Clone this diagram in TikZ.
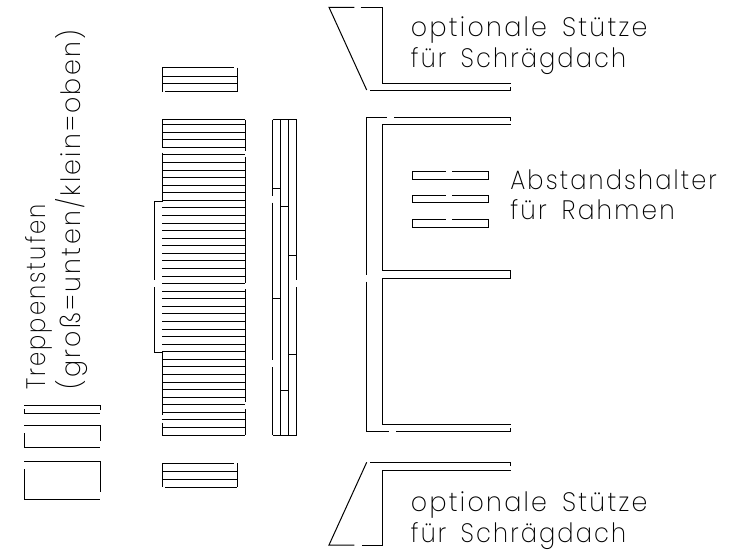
\documentclass[tikz,border=0pt]{standalone}
\usepackage{fontspec}
\setmainfont{Poppins ExtraLight}[LetterSpace=9, WordSpace=1.6]
\newcommand{\squeezed}[2]{\scalebox{#1}[1]{#2}}
\tikzset{
    part/.style={line width=0.75pt},
    label/.style={inner sep=0pt, anchor=base west, font=\fontsize{20}{20}\selectfont},
    sidelabel/.style={label, rotate=90}
}
\begin{document}
\begin{tikzpicture}[x=0.75pt, y=-0.75pt]
    \useasboundingbox (0, 0) rectangle (745, 549);

    % loose steps
    \draw[part] (24, 405.7) -- (100, 405.7) -- (100, 410);
    \draw[part] (24, 409) -- (24, 413.3) -- (100, 413.3);
    \draw[part] (24, 425.7) -- (100, 425.7) -- (100, 440.7);
    \draw[part] (24, 433.3) -- (24, 447.7) -- (100, 447.7);
    \draw[part] (24, 461.7) -- (100, 461.7) -- (100, 492.3);
    \draw[part] (24, 469.3) -- (24, 499.7) -- (100, 499.7);

    % small ladders
    \foreach \top in {67.7, 463.3} {
        \draw[part] (162, \top) -- ++(72, 0);
        \draw[part] (162, \top + 8.6) -- ++(75.3, 0);
        \draw[part] (162, \top + 16.3) -- ++(75.3, 0);
        \draw[part] (165, \top + 24) -- ++(72.3, 0);
        \draw[part] (162, \top) -- ++(0, 24);
        \draw[part] (237.3, \top) -- ++(0, 24);
    }

    % big ladder
    \draw[part] (162, 119.7) -- (245, 119.7);
    \foreach \i in {0, ..., 41} {
        \draw[part] (162, 124.7 + 7.57 * \i) -- (245, 124.7 + 7.57 * \i);
    }
    \draw[part] (162, 119.7) -- (162, 148.3);
    \draw[part] (162, 152.7) -- (162, 201) -- (154, 201) -- (154, 280);
    \draw[part] (154, 287.3) -- (154, 352.7) -- (162, 352.7) -- (162, 415);
    \draw[part] (162, 422.7) -- (162, 435);
    \draw[part] (245, 119.7) -- (245, 151);
    \draw[part] (245, 156.7) -- (245, 283.3);
    \draw[part] (245, 289.3) -- (245, 401.7);
    \draw[part] (245, 409.3) -- (245, 435);

    % side rail
    \draw[part] (272.7, 119.7) -- (296.7, 119.7);
    \draw[part] (272.7, 435) -- (296.7, 435);
    \draw[part] (272.7, 119.7) -- (272.7, 195.7);
    \draw[part] (272.7, 202.7) -- (272.7, 360);
    \draw[part] (272.7, 367.3) -- (272.7, 435);
    \draw[part] (280.3, 119.7) -- (280.3, 435);
    \draw[part] (288, 119.7) -- (288, 435);
    \draw[part] (296.7, 119.7) -- (296.7, 280);
    \draw[part] (296.7, 287.3) -- (296.7, 435);
    \draw[part] (272.7, 188.3) -- (280.3, 188.3);
    \draw[part] (280.3, 206) -- (288, 206);
    \draw[part] (288, 255) -- (296.7, 255);
    \draw[part] (272.7, 298) -- (280.3, 298);
    \draw[part] (288, 354.3) -- (296.7, 354.3);
    \draw[part] (280.3, 390) -- (288, 390);

    % top support
    \draw[part] (354.3, 7.3) -- (329, 7.3) -- (366.7, 90);
    \draw[part] (360.7, 7.3) -- (382, 7.3) -- (382, 83.3) -- (510.7, 83.3);
    \draw[part] (370, 90.7) -- (510.7, 90.7) -- (510.7, 86.7);

    % frame
    \draw[part] (386.7, 117.3) -- (366.7, 117.3) -- (366.7, 275);
    \draw[part] (394, 117.3) -- (510.7, 117.3) -- (510.7, 120.7);
    \draw[part] (510.7, 125) -- (382, 125) -- (382, 270.7) -- (510.7, 270.7) -- (510.7, 278.3) -- (382, 278.3) -- (382, 424) -- (510.7, 424);
    \draw[part] (366.7, 281.7) -- (366.7, 431.7) -- (389, 431.7);
    \draw[part] (396, 431.7) -- (510.7, 431.7) -- (510.7, 428);

    % spacers
    \foreach \top in {171.7, 195, 219.3} {
        \draw[part] (445.7, \top) -- (412.7, \top) -- (412.7, \top + 7.8) -- (488.7, \top + 7.8) -- (488.7, \top) -- (452.3, \top);
    }

    % bottom support
    \draw[part] (510.7, 466) -- (510.7, 462.3) -- (370, 462.3);
    \draw[part] (510.7, 470) -- (382, 470) -- (382, 545) -- (362.3, 545);
    \draw[part] (354.3, 545) -- (329, 545) -- (366.7, 462.3);

    % labels
    \node[label] (topone) at (410.7, 36.7) {\squeezed{0.95}{optionale Stütze}};
    \node[label] (toptwo) at (410.7, 67.3) {\squeezed{0.9}{für Schrägdach}};
    \node[label] (spacerone) at (510, 189.3) {\squeezed{0.9}{Abstandshalter}};
    \node[label] (spacertwo) at (510, 219.3) {\squeezed{0.93}{für Rahmen}};
    \node[label] (botone) at (410.7, 511.7) {\squeezed{0.95}{optionale Stütze}};
    \node[label] (bottwo) at (410.7, 542.3) {\squeezed{0.9}{für Schrägdach}};
    \node[sidelabel] (stepsone) at (45, 390) {\squeezed{0.85}{Treppenstufen}};
    \node[sidelabel] (stepstwo) at (80, 390) {\squeezed{0.95}{(groß=unten/klein=oben)}};
\end{tikzpicture}
\end{document}
